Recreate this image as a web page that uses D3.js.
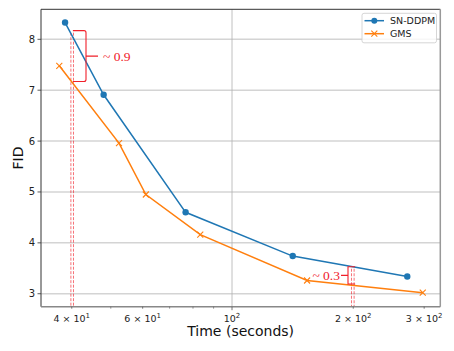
<!DOCTYPE html>
<html><head><meta charset="utf-8">
<script src="https://cdn.jsdelivr.net/npm/d3@7"></script>
<style>body{margin:0;background:#fff}svg{display:block}text{font-family:"DejaVu Sans",sans-serif}</style>
</head><body>
<svg id="c" width="454" height="351"></svg>
<script>
const snTime = [38.5, 48.0, 76.7, 141.5, 272.4];
const snFid  = [8.33, 6.91, 4.60, 3.74, 3.34];
const gmsTime = [37.25, 52.4, 61.1, 83.4, 153.6, 297.6];
const gmsFid  = [7.48, 5.96, 4.95, 4.16, 3.26, 3.02];
const seriesNames = ["SN-DDPM", "GMS"];
const yTicks = [3, 4, 5, 6, 7, 8];
const xTickLabels = [[40, "4", "1"], [60, "6", "1"], [100, null, "2"], [200, "2", "2"], [300, "3", "2"]];
const xMinor = [50, 70, 80, 90];
const gapAnnots = [{t: 39.8, t2: 40.4, top: 8.17, bottom: 7.17, label: "~ 0.9", side: "right"},
                   {t: 198, t2: 201, top: 3.53, bottom: 3.19, label: "~ 0.3", side: "left"}];

const svg = d3.select("#c");
const L = 41, R = 440.3, T = 9.3, B = 306.7;
const x = d3.scaleLog().domain([33.55, 329]).range([L, R]);
const y = d3.scaleLinear().domain([2.745, 8.59]).range([B, T]);
const blue = "#1f77b4", orange = "#ff7f0e", red = "#f0202a";

// grid
svg.append("g").selectAll("line").data(yTicks).join("line")
  .attr("x1", L).attr("x2", R).attr("y1", d => y(d)).attr("y2", d => y(d))
  .attr("stroke", "#d4d4d4").attr("stroke-width", 1.5);
svg.append("line").attr("x1", x(100)).attr("x2", x(100)).attr("y1", T).attr("y2", B)
  .attr("stroke", "#b0b0b0").attr("stroke-width", 0.8);

// annotation dashed lines
gapAnnots.forEach(a => {
  [a.t, a.t2].forEach(tt => {
    svg.append("line").attr("x1", x(tt)).attr("x2", x(tt)).attr("y1", y(a.top) + 2).attr("y2", B)
      .attr("stroke", red).attr("stroke-opacity", 0.7).attr("stroke-width", 0.9).attr("stroke-dasharray", "3,1.5");
  });
});

// lines
const line = d3.line().x(d => x(d[0])).y(d => y(d[1]));
const sn = snTime.map((t, i) => [t, snFid[i]]);
const gm = gmsTime.map((t, i) => [t, gmsFid[i]]);
svg.append("path").datum(gm).attr("d", line).attr("fill", "none").attr("stroke", orange).attr("stroke-width", 1.5);
svg.append("path").datum(sn).attr("d", line).attr("fill", "none").attr("stroke", blue).attr("stroke-width", 1.5);
svg.append("g").selectAll("circle").data(sn).join("circle")
  .attr("cx", d => x(d[0])).attr("cy", d => y(d[1])).attr("r", 3.2).attr("fill", blue);
const xm = 3;
svg.append("g").selectAll("path").data(gm).join("path")
  .attr("d", d => { const cx = x(d[0]), cy = y(d[1]); return `M${cx-xm},${cy-xm}L${cx+xm},${cy+xm}M${cx-xm},${cy+xm}L${cx+xm},${cy-xm}`; })
  .attr("stroke", orange).attr("stroke-width", 1.1).attr("fill", "none");

// brackets
const b1 = gapAnnots[0];
{
  const x0 = x(b1.t) + 2, xv = 86, y0 = y(b1.top), y1 = y(b1.bottom), ym = (y0 + y1) / 2;
  svg.append("path").attr("d", `M${x0},${y0}L${xv-2},${y0}Q${xv},${y0} ${xv},${y0+2}L${xv},${y1-2}Q${xv},${y1} ${xv-2},${y1}L${x0},${y1}M${xv},${ym}L${xv+12},${ym}`)
    .attr("fill", "none").attr("stroke", red).attr("stroke-width", 1.1);
  svg.append("text").attr("x", xv + 17).attr("y", ym + 4.5).attr("fill", red)
    .style("font-family", "'Liberation Serif','DejaVu Serif',serif").style("font-size", "13.5px").text(b1.label);
}
const b2 = gapAnnots[1];
{
  const x0 = x(b2.t2) + 1, xv = 348, y0 = y(b2.top), y1 = y(b2.bottom), ym = (y0 + y1) / 2;
  svg.append("path").attr("d", `M${x0},${y0}L${xv},${y0}L${xv},${y1}L${x0},${y1}M${xv},${ym}L${xv-7},${ym}`)
    .attr("fill", "none").attr("stroke", red).attr("stroke-width", 1.1);
  svg.append("text").attr("x", xv - 8).attr("y", ym + 4.5).attr("text-anchor", "end").attr("fill", red)
    .style("font-family", "'Liberation Serif','DejaVu Serif',serif").style("font-size", "13.5px").text(b2.label);
}

// spines
svg.append("line").attr("x1", L).attr("x2", R).attr("y1", T).attr("y2", T).attr("stroke", "#333").attr("stroke-width", 1);
svg.append("line").attr("x1", L).attr("x2", L).attr("y1", T).attr("y2", B).attr("stroke", "#333").attr("stroke-width", 1);
svg.append("line").attr("x1", R).attr("x2", R).attr("y1", T).attr("y2", B).attr("stroke", "#999").attr("stroke-width", 1.5);
svg.append("line").attr("x1", L).attr("x2", R).attr("y1", B).attr("y2", B).attr("stroke", "#888").attr("stroke-width", 1.5);

// y axis ticks
const gy = svg.append("g");
yTicks.forEach(v => {
  gy.append("line").attr("x1", L - 3.5).attr("x2", L).attr("y1", y(v)).attr("y2", y(v)).attr("stroke", "#333").attr("stroke-width", 0.8);
  gy.append("text").attr("x", L - 6).attr("y", y(v) + 3.5).attr("text-anchor", "end").attr("fill", "#222").style("font-size", "10px").text(v);
});

// x axis ticks
const gx = svg.append("g");
xTickLabels.forEach(([v, m, e]) => {
  gx.append("line").attr("x1", x(v)).attr("x2", x(v)).attr("y1", B).attr("y2", B + (m === null ? 3.5 : 2)).attr("stroke", "#555").attr("stroke-width", 0.8);
  const t = gx.append("text").attr("x", x(v)).attr("y", B + 15).attr("text-anchor", "middle").attr("fill", "#222").style("font-size", "9.5px");
  t.append("tspan").text(m === null ? "10" : m + " \u00d7 10");
  t.append("tspan").attr("dy", -4).style("font-size", "7px").text(e);
});
xMinor.forEach(v => {
  gx.append("line").attr("x1", x(v)).attr("x2", x(v)).attr("y1", B).attr("y2", B + 2).attr("stroke", "#555").attr("stroke-width", 0.6);
});

// axis labels
svg.append("text").attr("x", (L + R) / 2).attr("y", 336).attr("text-anchor", "middle").attr("fill", "#111").style("font-size", "14px").text("Time (seconds)");
svg.append("text").attr("transform", `translate(23,${(T + B) / 2}) rotate(-90)`).attr("text-anchor", "middle").attr("fill", "#111").style("font-size", "14px").text("FID");

// legend
const lg = svg.append("g");
lg.append("rect").attr("x", 362).attr("y", 13.3).attr("width", 74.5).attr("height", 29.5).attr("rx", 2)
  .attr("fill", "#fff").attr("fill-opacity", 0.8).attr("stroke", "#ccc").attr("stroke-width", 0.8);
seriesNames.forEach((name, i) => {
  const yy = 20.7 + i * 13;
  const col = i === 0 ? blue : orange;
  lg.append("line").attr("x1", 364.5).attr("x2", 384).attr("y1", yy).attr("y2", yy).attr("stroke", col).attr("stroke-width", 1.5);
  if (i === 0) lg.append("circle").attr("cx", 374.3).attr("cy", yy).attr("r", 3).attr("fill", col);
  else lg.append("path").attr("d", `M${374.3-xm},${yy-xm}L${374.3+xm},${yy+xm}M${374.3-xm},${yy+xm}L${374.3+xm},${yy-xm}`).attr("stroke", col).attr("stroke-width", 1.1);
  lg.append("text").attr("x", 390).attr("y", yy + 3.5).attr("fill", "#222").style("font-size", "9.5px").text(name);
});
</script>
</body></html>
